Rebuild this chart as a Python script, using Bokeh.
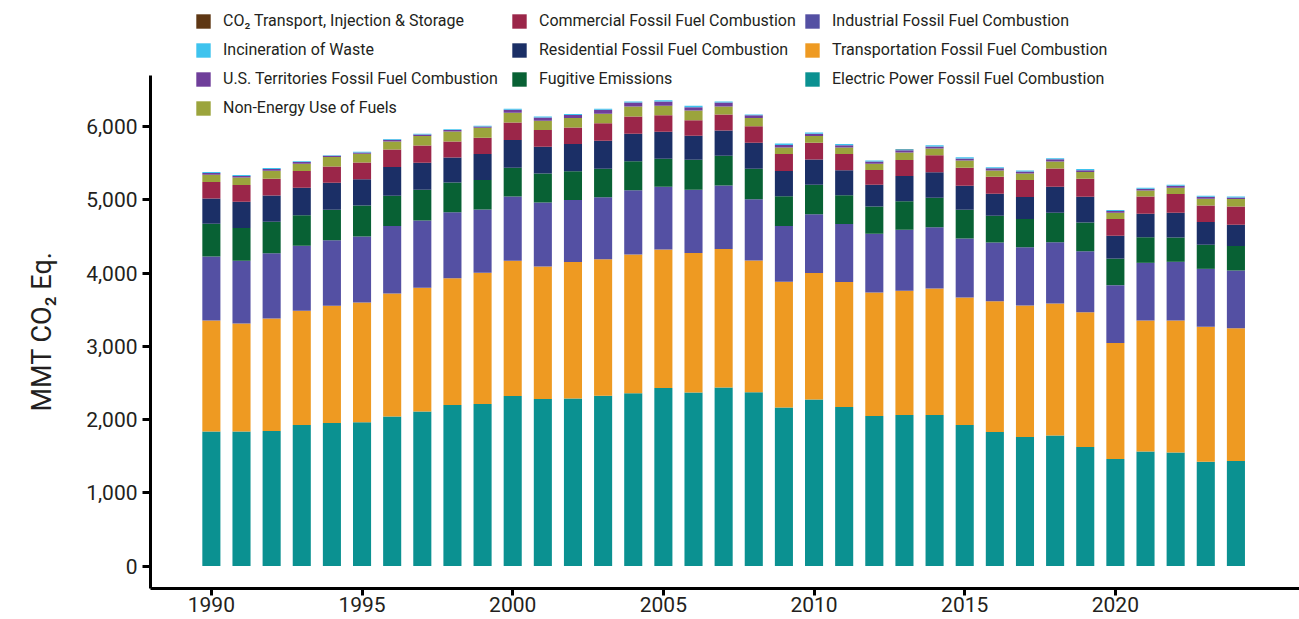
from bokeh.plotting import figure
from bokeh.models import (ColumnDataSource, Legend, LegendItem, FixedTicker,
                          NumeralTickFormatter, Range1d, Title)
from bokeh.embed import file_html
from bokeh.resources import INLINE

years = list(range(1990, 2025))

electric = [1835, 1835, 1844, 1926, 1953, 1962, 2040, 2108, 2199, 2213,
            2322, 2281, 2288, 2325, 2358, 2429, 2368, 2438, 2372, 2165,
            2274, 2170, 2049, 2063, 2063, 1926, 1830, 1762, 1780, 1626,
            1462, 1562, 1548, 1425, 1434]
transport = [1516, 1475, 1535, 1557, 1599, 1635, 1680, 1689, 1731, 1789,
             1844, 1808, 1862, 1863, 1896, 1891, 1905, 1891, 1797, 1717,
             1726, 1708, 1685, 1694, 1725, 1739, 1785, 1794, 1803, 1839,
             1584, 1789, 1803, 1840, 1813]
industrial = [875, 856, 892, 888, 894, 902, 920, 920, 901, 866,
              877, 872, 848, 847, 874, 856, 864, 864, 839, 760,
              802, 790, 801, 833, 838, 806, 802, 797, 838, 833,
              788, 788, 802, 792, 787]
fugitive = [448, 447, 428, 419, 419, 421, 414, 419, 403, 402,
            394, 396, 392, 387, 396, 382, 408, 407, 416, 407,
            404, 395, 374, 391, 401, 392, 364, 383, 401, 392,
            362, 348, 332, 328, 333]
residential = [342, 359, 360, 373, 367, 360, 392, 369, 344, 353,
               380, 367, 372, 384, 376, 370, 328, 345, 354, 345,
               342, 338, 295, 342, 348, 328, 301, 300, 355, 351,
               314, 321, 337, 310, 291]
commercial = [227, 228, 227, 228, 223, 227, 241, 237, 218, 223,
              239, 229, 224, 240, 236, 225, 212, 218, 227, 230,
              230, 223, 203, 220, 232, 246, 232, 232, 250, 247,
              228, 235, 255, 227, 251]
non_energy = [98, 105, 110, 102, 127, 121, 109, 127, 137, 137,
              132, 126, 130, 128, 137, 129, 135, 110, 111, 89,
              92, 89, 85, 103, 91, 100, 86, 89, 96, 92,
              86, 84, 88, 91, 100]
territories = [23, 20, 23, 21, 18, 18, 23, 23, 18, 18,
               41, 45, 42, 55, 54, 58, 44, 54, 37, 35,
               30, 30, 31, 30, 30, 27, 30, 30, 30, 22,
               23, 23, 26, 28, 22]
incineration = [14, 12, 13, 10, 9, 9, 9, 9, 12, 9,
                14, 14, 12, 14, 14, 18, 19, 13, 12, 19,
                19, 19, 14, 15, 16, 16, 14, 13, 13, 17,
                14, 14, 13, 13, 14]
co2_transport = [0, 0, 0, 0, 0, 0, 0, 0, 0, 0,
                 0, 0, 0, 0, 0, 0, 0, 0, 0, 0,
                 0.4, 0.4, 0.4, 0.4, 0.4, 0.4, 0.4, 0.4, 0.4, 0.4,
                 0.4, 0.4, 0.4, 0.4, 0.4]

series_keys = ["electric", "transport", "industrial", "fugitive", "residential",
               "commercial", "non_energy", "territories", "incineration", "co2_transport"]
series_labels = {
    "electric": "Electric Power Fossil Fuel Combustion",
    "transport": "Transportation Fossil Fuel Combustion",
    "industrial": "Industrial Fossil Fuel Combustion",
    "fugitive": "Fugitive Emissions",
    "residential": "Residential Fossil Fuel Combustion",
    "commercial": "Commercial Fossil Fuel Combustion",
    "non_energy": "Non-Energy Use of Fuels",
    "territories": "U.S. Territories Fossil Fuel Combustion",
    "incineration": "Incineration of Waste",
    "co2_transport": "CO\u2082 Transport, Injection & Storage",
}
series_colors = {
    "electric": "#0b9191",
    "transport": "#ee9a22",
    "industrial": "#5450a3",
    "fugitive": "#086134",
    "residential": "#1b2f66",
    "commercial": "#9b2649",
    "non_energy": "#9ba43c",
    "territories": "#6f3e9a",
    "incineration": "#3ec3ee",
    "co2_transport": "#5e3714",
}

y_ticks = [0, 1000, 2000, 3000, 4000, 5000, 6000]
x_ticks = [1990, 1995, 2000, 2005, 2010, 2015, 2020]
y_title = "MMT CO\u2082 Eq."

source = ColumnDataSource(dict(
    year=years, electric=electric, transport=transport, industrial=industrial,
    fugitive=fugitive, residential=residential, commercial=commercial,
    non_energy=non_energy, territories=territories, incineration=incineration,
    co2_transport=co2_transport))

FONT = "Roboto"
TXT = "#231f20"

p = figure(width=1299, height=619, output_backend="svg", toolbar_location=None,
           x_range=Range1d(1987.98, 2026.11), y_range=Range1d(-307, 7720),
           min_border_left=150, min_border_right=0, min_border_top=0,
           min_border_bottom=31)

renderers = p.vbar_stack(series_keys, x="year", width=0.6, source=source,
                         color=[series_colors[k] for k in series_keys],
                         line_color=None)
rmap = dict(zip(series_keys, renderers))

p.xgrid.visible = False
p.ygrid.visible = False
p.outline_line_color = None
p.background_fill_color = "white"
p.border_fill_color = "white"

for ax in (p.xaxis[0], p.yaxis[0]):
    ax.axis_line_width = 3
    ax.axis_line_color = "black"
    ax.major_tick_line_width = 3
    ax.major_tick_line_color = "black"
    ax.major_tick_in = 0
    ax.minor_tick_line_color = None
    ax.major_label_text_font = FONT
    ax.major_label_text_font_size = "21px"
    ax.major_label_text_color = TXT

p.yaxis.ticker = FixedTicker(ticks=y_ticks)
p.yaxis.formatter = NumeralTickFormatter(format="0,0")
p.yaxis.bounds = (-307, 6696)
p.yaxis.major_tick_out = 8
p.yaxis.major_label_standoff = 5

title = Title(text=y_title, align="left", offset=177, standoff=48,
              vertical_align="top",
              text_font=FONT, text_font_size="27px", text_font_style="normal",
              text_color=TXT)
p.add_layout(title, "left")

p.xaxis.ticker = FixedTicker(ticks=x_ticks)
p.xaxis.major_tick_out = 7
p.xaxis.major_label_standoff = 1

columns = [
    (["co2_transport", "incineration", "territories", "non_energy"], 44, 471),
    (["commercial", "residential", "fugitive"], 360, 500),
    (["industrial", "transport", "electric"], 653, 500),
]
for keys, lx, ly in columns:
    items = [LegendItem(label=series_labels[k], renderers=[rmap[k]]) for k in keys]
    lg = Legend(items=items, location=(lx, ly), orientation="vertical",
                glyph_width=18, glyph_height=18, label_height=19,
                label_standoff=11, spacing=10, padding=0, margin=0,
                border_line_color=None, background_fill_alpha=0,
                label_text_font=FONT, label_text_font_size="16px",
                label_text_color=TXT)
    p.add_layout(lg)

open("out.html", "w").write(file_html(p, INLINE))
